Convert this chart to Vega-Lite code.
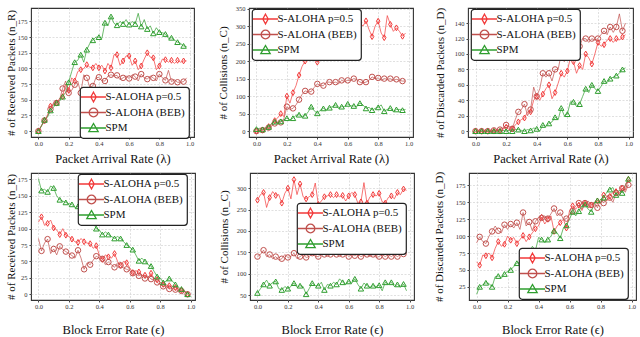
{
"$schema": "https://vega.github.io/schema/vega-lite/v6.json",
"padding": {"left": 4, "top": 5, "right": 0, "bottom": 0},
"background": "white",
"datasets": {
"p1": [
{"x":0,"ALOHA":0,"BEB":0,"SPM":0},{"x":0.02,"ALOHA":8,"BEB":9,"SPM":8},{"x":0.04,"ALOHA":17,"BEB":17,"SPM":18},{"x":0.06,"ALOHA":25,"BEB":24,"SPM":22},{"x":0.08,"ALOHA":40,"BEB":35,"SPM":33},{"x":0.1,"ALOHA":42,"BEB":45,"SPM":38},{"x":0.12,"ALOHA":45,"BEB":45,"SPM":45},{"x":0.14,"ALOHA":52,"BEB":50,"SPM":48},{"x":0.16,"ALOHA":55,"BEB":68,"SPM":55},{"x":0.18,"ALOHA":75,"BEB":80,"SPM":62},
{"x":0.2,"ALOHA":65,"BEB":61,"SPM":78},{"x":0.22,"ALOHA":85,"BEB":65,"SPM":95},{"x":0.24,"ALOHA":80,"BEB":74,"SPM":110},{"x":0.26,"ALOHA":95,"BEB":80,"SPM":113},{"x":0.28,"ALOHA":98,"BEB":61,"SPM":122},{"x":0.3,"ALOHA":100,"BEB":90,"SPM":110},{"x":0.32,"ALOHA":106,"BEB":85,"SPM":130},{"x":0.34,"ALOHA":102,"BEB":70,"SPM":140},{"x":0.36,"ALOHA":101,"BEB":72,"SPM":145},{"x":0.38,"ALOHA":108,"BEB":85,"SPM":150},
{"x":0.4,"ALOHA":101,"BEB":86,"SPM":150},{"x":0.42,"ALOHA":105,"BEB":80,"SPM":148},{"x":0.44,"ALOHA":96,"BEB":80,"SPM":173},{"x":0.46,"ALOHA":108,"BEB":88,"SPM":168},{"x":0.48,"ALOHA":101,"BEB":90,"SPM":183},{"x":0.5,"ALOHA":122,"BEB":88,"SPM":172},{"x":0.52,"ALOHA":122,"BEB":89,"SPM":169},{"x":0.54,"ALOHA":105,"BEB":82,"SPM":175},{"x":0.56,"ALOHA":112,"BEB":85,"SPM":171},{"x":0.58,"ALOHA":120,"BEB":88,"SPM":178},
{"x":0.6,"ALOHA":120,"BEB":84,"SPM":170},{"x":0.62,"ALOHA":105,"BEB":90,"SPM":175},{"x":0.64,"ALOHA":112,"BEB":87,"SPM":171},{"x":0.66,"ALOHA":98,"BEB":80,"SPM":188},{"x":0.68,"ALOHA":104,"BEB":91,"SPM":167},{"x":0.7,"ALOHA":115,"BEB":85,"SPM":178},{"x":0.72,"ALOHA":125,"BEB":83,"SPM":163},{"x":0.74,"ALOHA":118,"BEB":88,"SPM":168},{"x":0.76,"ALOHA":117,"BEB":85,"SPM":156},{"x":0.78,"ALOHA":98,"BEB":80,"SPM":165},
{"x":0.8,"ALOHA":104,"BEB":91,"SPM":158},{"x":0.82,"ALOHA":115,"BEB":85,"SPM":157},{"x":0.84,"ALOHA":114,"BEB":81,"SPM":155},{"x":0.86,"ALOHA":110,"BEB":97,"SPM":148},{"x":0.88,"ALOHA":113,"BEB":79,"SPM":149},{"x":0.9,"ALOHA":108,"BEB":82,"SPM":145},{"x":0.92,"ALOHA":113,"BEB":78,"SPM":142},{"x":0.94,"ALOHA":110,"BEB":78,"SPM":140},{"x":0.96,"ALOHA":112,"BEB":79,"SPM":136},{"x":0.98,"ALOHA":112,"BEB":85,"SPM":135}
],
"p2": [
{"x":0,"ALOHA":0,"BEB":0,"SPM":6},{"x":0.02,"ALOHA":2,"BEB":1,"SPM":8},{"x":0.04,"ALOHA":3,"BEB":3,"SPM":5},{"x":0.06,"ALOHA":8,"BEB":6,"SPM":10},{"x":0.08,"ALOHA":13,"BEB":10,"SPM":12},{"x":0.1,"ALOHA":20,"BEB":15,"SPM":22},{"x":0.12,"ALOHA":30,"BEB":22,"SPM":27},{"x":0.14,"ALOHA":38,"BEB":25,"SPM":25},{"x":0.16,"ALOHA":50,"BEB":25,"SPM":28},{"x":0.18,"ALOHA":42,"BEB":35,"SPM":32},
{"x":0.2,"ALOHA":100,"BEB":70,"SPM":37},{"x":0.22,"ALOHA":80,"BEB":62,"SPM":32},{"x":0.24,"ALOHA":110,"BEB":65,"SPM":37},{"x":0.26,"ALOHA":130,"BEB":75,"SPM":45},{"x":0.28,"ALOHA":160,"BEB":90,"SPM":47},{"x":0.3,"ALOHA":185,"BEB":105,"SPM":42},{"x":0.32,"ALOHA":200,"BEB":115,"SPM":44},{"x":0.34,"ALOHA":210,"BEB":112,"SPM":55},{"x":0.36,"ALOHA":230,"BEB":113,"SPM":70},{"x":0.38,"ALOHA":215,"BEB":125,"SPM":58},
{"x":0.4,"ALOHA":197,"BEB":135,"SPM":51},{"x":0.42,"ALOHA":240,"BEB":130,"SPM":60},{"x":0.44,"ALOHA":260,"BEB":130,"SPM":65},{"x":0.46,"ALOHA":275,"BEB":140,"SPM":60},{"x":0.48,"ALOHA":285,"BEB":140,"SPM":67},{"x":0.5,"ALOHA":290,"BEB":138,"SPM":70},{"x":0.52,"ALOHA":300,"BEB":140,"SPM":75},{"x":0.54,"ALOHA":310,"BEB":135,"SPM":65},{"x":0.56,"ALOHA":305,"BEB":145,"SPM":70},{"x":0.58,"ALOHA":295,"BEB":142,"SPM":70},
{"x":0.6,"ALOHA":310,"BEB":145,"SPM":78},{"x":0.62,"ALOHA":300,"BEB":145,"SPM":72},{"x":0.64,"ALOHA":320,"BEB":150,"SPM":72},{"x":0.66,"ALOHA":305,"BEB":148,"SPM":70},{"x":0.68,"ALOHA":310,"BEB":140,"SPM":80},{"x":0.7,"ALOHA":300,"BEB":138,"SPM":75},{"x":0.72,"ALOHA":315,"BEB":140,"SPM":65},{"x":0.74,"ALOHA":290,"BEB":145,"SPM":68},{"x":0.76,"ALOHA":270,"BEB":155,"SPM":60},{"x":0.78,"ALOHA":300,"BEB":150,"SPM":65},
{"x":0.8,"ALOHA":314,"BEB":152,"SPM":68},{"x":0.82,"ALOHA":280,"BEB":145,"SPM":75},{"x":0.84,"ALOHA":267,"BEB":150,"SPM":57},{"x":0.86,"ALOHA":330,"BEB":148,"SPM":62},{"x":0.88,"ALOHA":305,"BEB":150,"SPM":66},{"x":0.9,"ALOHA":285,"BEB":145,"SPM":55},{"x":0.92,"ALOHA":295,"BEB":148,"SPM":62},{"x":0.94,"ALOHA":285,"BEB":145,"SPM":62},{"x":0.96,"ALOHA":271,"BEB":143,"SPM":60},{"x":0.98,"ALOHA":280,"BEB":143,"SPM":62}
],
"p3": [
{"x":0,"ALOHA":0,"BEB":0,"SPM":0},{"x":0.02,"ALOHA":0,"BEB":0,"SPM":0},{"x":0.04,"ALOHA":0,"BEB":0,"SPM":0},{"x":0.06,"ALOHA":0,"BEB":0,"SPM":0},{"x":0.08,"ALOHA":0,"BEB":0,"SPM":0},{"x":0.1,"ALOHA":0,"BEB":0,"SPM":0},{"x":0.12,"ALOHA":0,"BEB":1,"SPM":0},{"x":0.14,"ALOHA":1,"BEB":2,"SPM":0},{"x":0.16,"ALOHA":0,"BEB":2,"SPM":0},{"x":0.18,"ALOHA":3,"BEB":4,"SPM":1},
{"x":0.2,"ALOHA":5,"BEB":8,"SPM":0},{"x":0.22,"ALOHA":2,"BEB":6,"SPM":1},{"x":0.24,"ALOHA":3,"BEB":3,"SPM":0},{"x":0.26,"ALOHA":8,"BEB":15,"SPM":2},{"x":0.28,"ALOHA":12,"BEB":25,"SPM":2},{"x":0.3,"ALOHA":15,"BEB":28,"SPM":1},{"x":0.32,"ALOHA":17,"BEB":35,"SPM":0},{"x":0.34,"ALOHA":25,"BEB":20,"SPM":2},{"x":0.36,"ALOHA":25,"BEB":28,"SPM":1},{"x":0.38,"ALOHA":40,"BEB":57,"SPM":4},
{"x":0.4,"ALOHA":45,"BEB":45,"SPM":3},{"x":0.42,"ALOHA":40,"BEB":55,"SPM":0},{"x":0.44,"ALOHA":48,"BEB":75,"SPM":8},{"x":0.46,"ALOHA":55,"BEB":70,"SPM":6},{"x":0.48,"ALOHA":60,"BEB":75,"SPM":10},{"x":0.5,"ALOHA":42,"BEB":65,"SPM":12},{"x":0.52,"ALOHA":50,"BEB":80,"SPM":18},{"x":0.54,"ALOHA":62,"BEB":80,"SPM":15},{"x":0.56,"ALOHA":75,"BEB":100,"SPM":30},{"x":0.58,"ALOHA":70,"BEB":90,"SPM":20},
{"x":0.6,"ALOHA":78,"BEB":105,"SPM":22},{"x":0.62,"ALOHA":95,"BEB":100,"SPM":38},{"x":0.64,"ALOHA":90,"BEB":110,"SPM":38},{"x":0.66,"ALOHA":75,"BEB":105,"SPM":32},{"x":0.68,"ALOHA":85,"BEB":110,"SPM":35},{"x":0.7,"ALOHA":80,"BEB":120,"SPM":45},{"x":0.72,"ALOHA":100,"BEB":120,"SPM":55},{"x":0.74,"ALOHA":95,"BEB":115,"SPM":50},{"x":0.76,"ALOHA":87,"BEB":120,"SPM":60},{"x":0.78,"ALOHA":100,"BEB":118,"SPM":55},
{"x":0.8,"ALOHA":115,"BEB":120,"SPM":52},{"x":0.82,"ALOHA":110,"BEB":125,"SPM":58},{"x":0.84,"ALOHA":112,"BEB":130,"SPM":65},{"x":0.86,"ALOHA":118,"BEB":125,"SPM":63},{"x":0.88,"ALOHA":120,"BEB":135,"SPM":68},{"x":0.9,"ALOHA":115,"BEB":128,"SPM":70},{"x":0.92,"ALOHA":120,"BEB":135,"SPM":72},{"x":0.94,"ALOHA":118,"BEB":152,"SPM":75},{"x":0.96,"ALOHA":122,"BEB":130,"SPM":80},{"x":0.98,"ALOHA":125,"BEB":140,"SPM":82}
],
"p4": [
{"x":0,"ALOHA":110,"BEB":85,"SPM":176},{"x":0.02,"ALOHA":118,"BEB":66,"SPM":158},{"x":0.04,"ALOHA":105,"BEB":78,"SPM":160},{"x":0.06,"ALOHA":108,"BEB":84,"SPM":156},{"x":0.08,"ALOHA":113,"BEB":62,"SPM":165},{"x":0.1,"ALOHA":101,"BEB":69,"SPM":162},{"x":0.12,"ALOHA":98,"BEB":60,"SPM":150},{"x":0.14,"ALOHA":91,"BEB":73,"SPM":144},{"x":0.16,"ALOHA":100,"BEB":68,"SPM":142},{"x":0.18,"ALOHA":90,"BEB":65,"SPM":140},
{"x":0.2,"ALOHA":88,"BEB":62,"SPM":138},{"x":0.22,"ALOHA":84,"BEB":59,"SPM":137},{"x":0.24,"ALOHA":80,"BEB":55,"SPM":132},{"x":0.26,"ALOHA":79,"BEB":67,"SPM":134},{"x":0.28,"ALOHA":85,"BEB":55,"SPM":130},{"x":0.3,"ALOHA":80,"BEB":38,"SPM":125},{"x":0.32,"ALOHA":78,"BEB":48,"SPM":120},{"x":0.34,"ALOHA":77,"BEB":45,"SPM":115},{"x":0.36,"ALOHA":70,"BEB":52,"SPM":110},{"x":0.38,"ALOHA":74,"BEB":58,"SPM":100},
{"x":0.4,"ALOHA":60,"BEB":55,"SPM":98},{"x":0.42,"ALOHA":53,"BEB":54,"SPM":91},{"x":0.44,"ALOHA":60,"BEB":45,"SPM":95},{"x":0.46,"ALOHA":57,"BEB":49,"SPM":91},{"x":0.48,"ALOHA":55,"BEB":45,"SPM":88},{"x":0.5,"ALOHA":62,"BEB":41,"SPM":85},{"x":0.52,"ALOHA":50,"BEB":48,"SPM":88},{"x":0.54,"ALOHA":44,"BEB":44,"SPM":85},{"x":0.56,"ALOHA":50,"BEB":40,"SPM":80},{"x":0.58,"ALOHA":48,"BEB":38,"SPM":75},
{"x":0.6,"ALOHA":40,"BEB":36,"SPM":72},{"x":0.62,"ALOHA":33,"BEB":32,"SPM":68},{"x":0.64,"ALOHA":36,"BEB":30,"SPM":60},{"x":0.66,"ALOHA":34,"BEB":28,"SPM":51},{"x":0.68,"ALOHA":28,"BEB":30,"SPM":55},{"x":0.7,"ALOHA":29,"BEB":24,"SPM":50},{"x":0.72,"ALOHA":25,"BEB":28,"SPM":45},{"x":0.74,"ALOHA":32,"BEB":23,"SPM":43},{"x":0.76,"ALOHA":24,"BEB":22,"SPM":35},{"x":0.78,"ALOHA":22,"BEB":18,"SPM":27},
{"x":0.8,"ALOHA":18,"BEB":15,"SPM":25},{"x":0.82,"ALOHA":15,"BEB":12,"SPM":18},{"x":0.84,"ALOHA":14,"BEB":12,"SPM":20},{"x":0.86,"ALOHA":13,"BEB":8,"SPM":24},{"x":0.88,"ALOHA":12,"BEB":9,"SPM":20},{"x":0.9,"ALOHA":10,"BEB":7,"SPM":15},{"x":0.92,"ALOHA":8,"BEB":6,"SPM":10},{"x":0.94,"ALOHA":6,"BEB":5,"SPM":8},{"x":0.96,"ALOHA":5,"BEB":4,"SPM":5},{"x":0.98,"ALOHA":0,"BEB":0,"SPM":0}
],
"p5": [
{"x":0,"ALOHA":272,"BEB":140,"SPM":55},{"x":0.02,"ALOHA":285,"BEB":145,"SPM":65},{"x":0.04,"ALOHA":290,"BEB":155,"SPM":75},{"x":0.06,"ALOHA":255,"BEB":140,"SPM":85},{"x":0.08,"ALOHA":278,"BEB":145,"SPM":72},{"x":0.1,"ALOHA":292,"BEB":135,"SPM":80},{"x":0.12,"ALOHA":283,"BEB":140,"SPM":82},{"x":0.14,"ALOHA":285,"BEB":132,"SPM":65},{"x":0.16,"ALOHA":265,"BEB":135,"SPM":62},{"x":0.18,"ALOHA":288,"BEB":145,"SPM":70},
{"x":0.2,"ALOHA":300,"BEB":138,"SPM":65},{"x":0.22,"ALOHA":275,"BEB":140,"SPM":70},{"x":0.24,"ALOHA":320,"BEB":148,"SPM":78},{"x":0.26,"ALOHA":285,"BEB":135,"SPM":68},{"x":0.28,"ALOHA":310,"BEB":140,"SPM":72},{"x":0.3,"ALOHA":280,"BEB":145,"SPM":70},{"x":0.32,"ALOHA":275,"BEB":138,"SPM":52},{"x":0.34,"ALOHA":280,"BEB":140,"SPM":65},{"x":0.36,"ALOHA":285,"BEB":148,"SPM":78},{"x":0.38,"ALOHA":312,"BEB":140,"SPM":72},
{"x":0.4,"ALOHA":262,"BEB":140,"SPM":72},{"x":0.42,"ALOHA":270,"BEB":145,"SPM":80},{"x":0.44,"ALOHA":280,"BEB":145,"SPM":62},{"x":0.46,"ALOHA":282,"BEB":140,"SPM":75},{"x":0.48,"ALOHA":285,"BEB":145,"SPM":72},{"x":0.5,"ALOHA":278,"BEB":148,"SPM":80},{"x":0.52,"ALOHA":285,"BEB":145,"SPM":75},{"x":0.54,"ALOHA":280,"BEB":140,"SPM":88},{"x":0.56,"ALOHA":283,"BEB":145,"SPM":80},{"x":0.58,"ALOHA":270,"BEB":150,"SPM":75},
{"x":0.6,"ALOHA":282,"BEB":140,"SPM":82},{"x":0.62,"ALOHA":290,"BEB":145,"SPM":78},{"x":0.64,"ALOHA":285,"BEB":142,"SPM":88},{"x":0.66,"ALOHA":265,"BEB":146,"SPM":75},{"x":0.68,"ALOHA":268,"BEB":140,"SPM":65},{"x":0.7,"ALOHA":313,"BEB":143,"SPM":78},{"x":0.72,"ALOHA":265,"BEB":145,"SPM":72},{"x":0.74,"ALOHA":280,"BEB":140,"SPM":68},{"x":0.76,"ALOHA":285,"BEB":145,"SPM":72},{"x":0.78,"ALOHA":282,"BEB":138,"SPM":70},
{"x":0.8,"ALOHA":288,"BEB":140,"SPM":73},{"x":0.82,"ALOHA":268,"BEB":145,"SPM":60},{"x":0.84,"ALOHA":265,"BEB":140,"SPM":80},{"x":0.86,"ALOHA":278,"BEB":145,"SPM":75},{"x":0.88,"ALOHA":282,"BEB":140,"SPM":80},{"x":0.9,"ALOHA":275,"BEB":145,"SPM":70},{"x":0.92,"ALOHA":290,"BEB":140,"SPM":75},{"x":0.94,"ALOHA":285,"BEB":145,"SPM":68},{"x":0.96,"ALOHA":298,"BEB":146,"SPM":76},{"x":0.98,"ALOHA":295,"BEB":150,"SPM":60}
],
"p6": [
{"x":0,"ALOHA":62,"BEB":90,"SPM":14},{"x":0.02,"ALOHA":57,"BEB":99,"SPM":25},{"x":0.04,"ALOHA":72,"BEB":92,"SPM":28},{"x":0.06,"ALOHA":71,"BEB":89,"SPM":31},{"x":0.08,"ALOHA":75,"BEB":100,"SPM":30},{"x":0.1,"ALOHA":68,"BEB":107,"SPM":25},{"x":0.12,"ALOHA":82,"BEB":115,"SPM":40},{"x":0.14,"ALOHA":92,"BEB":108,"SPM":41},{"x":0.16,"ALOHA":85,"BEB":105,"SPM":38},{"x":0.18,"ALOHA":88,"BEB":117,"SPM":44},
{"x":0.2,"ALOHA":100,"BEB":110,"SPM":48},{"x":0.22,"ALOHA":94,"BEB":118,"SPM":50},{"x":0.24,"ALOHA":98,"BEB":112,"SPM":55},{"x":0.26,"ALOHA":89,"BEB":120,"SPM":60},{"x":0.28,"ALOHA":95,"BEB":110,"SPM":62},{"x":0.3,"ALOHA":101,"BEB":135,"SPM":67},{"x":0.32,"ALOHA":92,"BEB":115,"SPM":70},{"x":0.34,"ALOHA":99,"BEB":121,"SPM":75},{"x":0.36,"ALOHA":105,"BEB":108,"SPM":85},{"x":0.38,"ALOHA":111,"BEB":122,"SPM":79},
{"x":0.4,"ALOHA":115,"BEB":128,"SPM":98},{"x":0.42,"ALOHA":128,"BEB":127,"SPM":95},{"x":0.44,"ALOHA":118,"BEB":130,"SPM":90},{"x":0.46,"ALOHA":125,"BEB":126,"SPM":95},{"x":0.48,"ALOHA":130,"BEB":133,"SPM":100},{"x":0.5,"ALOHA":107,"BEB":141,"SPM":108},{"x":0.52,"ALOHA":115,"BEB":130,"SPM":105},{"x":0.54,"ALOHA":120,"BEB":135,"SPM":97},{"x":0.56,"ALOHA":125,"BEB":125,"SPM":112},{"x":0.58,"ALOHA":112,"BEB":126,"SPM":116},
{"x":0.6,"ALOHA":138,"BEB":132,"SPM":125},{"x":0.62,"ALOHA":145,"BEB":137,"SPM":136},{"x":0.64,"ALOHA":140,"BEB":145,"SPM":130},{"x":0.66,"ALOHA":146,"BEB":149,"SPM":137},{"x":0.68,"ALOHA":138,"BEB":140,"SPM":145},{"x":0.7,"ALOHA":149,"BEB":149,"SPM":147},{"x":0.72,"ALOHA":142,"BEB":152,"SPM":140},{"x":0.74,"ALOHA":146,"BEB":146,"SPM":136},{"x":0.76,"ALOHA":150,"BEB":150,"SPM":148},{"x":0.78,"ALOHA":152,"BEB":142,"SPM":153},
{"x":0.8,"ALOHA":148,"BEB":155,"SPM":150},{"x":0.82,"ALOHA":161,"BEB":149,"SPM":157},{"x":0.84,"ALOHA":152,"BEB":160,"SPM":165},{"x":0.86,"ALOHA":159,"BEB":157,"SPM":169},{"x":0.88,"ALOHA":165,"BEB":150,"SPM":172},{"x":0.9,"ALOHA":166,"BEB":164,"SPM":161},{"x":0.92,"ALOHA":163,"BEB":160,"SPM":168},{"x":0.94,"ALOHA":171,"BEB":171,"SPM":164},{"x":0.96,"ALOHA":168,"BEB":165,"SPM":175},{"x":0.98,"ALOHA":184,"BEB":176,"SPM":185}
]
},
"vconcat": [
{"hconcat": [
{"width":163,"height":129,"data":{"name":"p1"},
"transform":[{"fold":["ALOHA","BEB","SPM"],"as":["series","v"]}],
"encoding":{
"x":{"field":"x","type":"quantitative","scale":{"domain":[-0.049,1.029],"nice":false,"zero":false},"axis":{"title":"Packet Arrival Rate (λ)","values":[0,0.2,0.4,0.6,0.8,1],"format":".1f","titlePadding":6}},
"y":{"field":"v","type":"quantitative","scale":{"domain":[-9.4,196.5],"nice":false,"zero":false},"axis":{"title":"# of Received Packets (n_R)","values":[0,25,50,75,100,125,150,175],"titlePadding":1}},
"color":{"field":"series","type":"nominal","scale":{"domain":["ALOHA","BEB","SPM"],"range":["#f23a3a","#c0504d","#2f9e2f"]},
"legend":{"orient":"none","legendX":49,"legendY":79,"title":null,"labelExpr":"datum.value=='ALOHA'?'S-ALOHA p=0.5':datum.value=='BEB'?'S-ALOHA (BEB)':'SPM'"}}
},
"layer":[
{"mark":{"type":"line","strokeWidth":1,"opacity":0.7}},
{"transform":[{"filter":"datum.series=='ALOHA' && round(datum.x*100)%4==0"}],"mark":{"type":"point","shape":"M0,-1L0.6,0L0,1L-0.6,0Z","filled":false,"strokeWidth":1,"size":34,"opacity":1}},
{"transform":[{"filter":"datum.series=='BEB' && round(datum.x*100)%4==0"}],"mark":{"type":"point","shape":"circle","filled":false,"strokeWidth":1,"size":30,"opacity":1}},
{"transform":[{"filter":"datum.series=='SPM' && round(datum.x*100)%4==0"}],"mark":{"type":"point","shape":"triangle-up","filled":false,"strokeWidth":1,"size":30,"opacity":1}},
{"transform":[{"filter":"false"}],"mark":{"type":"point","filled":false,"opacity":0},
"encoding":{"shape":{"field":"series","type":"nominal","scale":{"domain":["ALOHA","BEB","SPM"],"range":["M-2.1,0L2.1,0M0,-0.8L0.45,0L0,0.8L-0.45,0Z","M-2.1,0L2.1,0M0.72,0A0.72,0.72,0,1,1,-0.72,0A0.72,0.72,0,1,1,0.72,0Z","M-2.1,0L2.1,0M0,-0.75L0.78,0.6L-0.78,0.6Z"]},
"legend":{"orient":"none","legendX":49,"legendY":79,"title":null,"labelExpr":"datum.value=='ALOHA'?'S-ALOHA p=0.5':datum.value=='BEB'?'S-ALOHA (BEB)':'SPM'"}}}}
]},
{"width":164,"height":129,"data":{"name":"p2"},
"transform":[{"fold":["ALOHA","BEB","SPM"],"as":["series","v"]}],
"encoding":{
"x":{"field":"x","type":"quantitative","scale":{"domain":[-0.049,1.029],"nice":false,"zero":false},"axis":{"title":"Packet Arrival Rate (λ)","values":[0,0.2,0.4,0.6,0.8,1],"format":".1f","titlePadding":6}},
"y":{"field":"v","type":"quantitative","scale":{"domain":[-16.7,351.7],"nice":false,"zero":false},"axis":{"title":"# of Collisions (n_C)","values":[0,50,100,150,200,250,300,350],"titlePadding":7}},
"color":{"field":"series","type":"nominal","scale":{"domain":["ALOHA","BEB","SPM"],"range":["#f23a3a","#c0504d","#2f9e2f"]},
"legend":{"orient":"none","legendX":3,"legendY":1,"title":null,"labelExpr":"datum.value=='ALOHA'?'S-ALOHA p=0.5':datum.value=='BEB'?'S-ALOHA (BEB)':'SPM'"}}
},
"layer":[
{"mark":{"type":"line","strokeWidth":1,"opacity":0.7}},
{"transform":[{"filter":"datum.series=='ALOHA' && round(datum.x*100)%4==0"}],"mark":{"type":"point","shape":"M0,-1L0.6,0L0,1L-0.6,0Z","filled":false,"strokeWidth":1,"size":34,"opacity":1}},
{"transform":[{"filter":"datum.series=='BEB' && round(datum.x*100)%4==0"}],"mark":{"type":"point","shape":"circle","filled":false,"strokeWidth":1,"size":30,"opacity":1}},
{"transform":[{"filter":"datum.series=='SPM' && round(datum.x*100)%4==0"}],"mark":{"type":"point","shape":"triangle-up","filled":false,"strokeWidth":1,"size":30,"opacity":1}},
{"transform":[{"filter":"false"}],"mark":{"type":"point","filled":false,"opacity":0},
"encoding":{"shape":{"field":"series","type":"nominal","scale":{"domain":["ALOHA","BEB","SPM"],"range":["M-2.1,0L2.1,0M0,-0.8L0.45,0L0,0.8L-0.45,0Z","M-2.1,0L2.1,0M0.72,0A0.72,0.72,0,1,1,-0.72,0A0.72,0.72,0,1,1,0.72,0Z","M-2.1,0L2.1,0M0,-0.75L0.78,0.6L-0.78,0.6Z"]},
"legend":{"orient":"none","legendX":3,"legendY":1,"title":null,"labelExpr":"datum.value=='ALOHA'?'S-ALOHA p=0.5':datum.value=='BEB'?'S-ALOHA (BEB)':'SPM'"}}}}
]},
{"width":165,"height":129,"data":{"name":"p3"},
"transform":[{"fold":["ALOHA","BEB","SPM"],"as":["series","v"]}],
"encoding":{
"x":{"field":"x","type":"quantitative","scale":{"domain":[-0.049,1.029],"nice":false,"zero":false},"axis":{"title":"Packet Arrival Rate (λ)","values":[0,0.2,0.4,0.6,0.8,1],"format":".1f","titlePadding":6}},
"y":{"field":"v","type":"quantitative","scale":{"domain":[-7.6,159.6],"nice":false,"zero":false},"axis":{"title":"# of Discarded Packets (n_D)","values":[0,20,40,60,80,100,120,140],"titlePadding":9}},
"color":{"field":"series","type":"nominal","scale":{"domain":["ALOHA","BEB","SPM"],"range":["#f23a3a","#c0504d","#2f9e2f"]},
"legend":{"orient":"none","legendX":3,"legendY":1,"title":null,"labelExpr":"datum.value=='ALOHA'?'S-ALOHA p=0.5':datum.value=='BEB'?'S-ALOHA (BEB)':'SPM'"}}
},
"layer":[
{"mark":{"type":"line","strokeWidth":1,"opacity":0.7}},
{"transform":[{"filter":"datum.series=='ALOHA' && round(datum.x*100)%4==0"}],"mark":{"type":"point","shape":"M0,-1L0.6,0L0,1L-0.6,0Z","filled":false,"strokeWidth":1,"size":34,"opacity":1}},
{"transform":[{"filter":"datum.series=='BEB' && round(datum.x*100)%4==0"}],"mark":{"type":"point","shape":"circle","filled":false,"strokeWidth":1,"size":30,"opacity":1}},
{"transform":[{"filter":"datum.series=='SPM' && round(datum.x*100)%4==0"}],"mark":{"type":"point","shape":"triangle-up","filled":false,"strokeWidth":1,"size":30,"opacity":1}},
{"transform":[{"filter":"false"}],"mark":{"type":"point","filled":false,"opacity":0},
"encoding":{"shape":{"field":"series","type":"nominal","scale":{"domain":["ALOHA","BEB","SPM"],"range":["M-2.1,0L2.1,0M0,-0.8L0.45,0L0,0.8L-0.45,0Z","M-2.1,0L2.1,0M0.72,0A0.72,0.72,0,1,1,-0.72,0A0.72,0.72,0,1,1,0.72,0Z","M-2.1,0L2.1,0M0,-0.75L0.78,0.6L-0.78,0.6Z"]},
"legend":{"orient":"none","legendX":3,"legendY":1,"title":null,"labelExpr":"datum.value=='ALOHA'?'S-ALOHA p=0.5':datum.value=='BEB'?'S-ALOHA (BEB)':'SPM'"}}}}
]}
],
"spacing": 55,
"bounds": "flush",
"resolve": {"scale":{"color":"independent","shape":"independent","x":"independent","y":"independent"},"legend":{"color":"independent","shape":"independent"}}
},
{"hconcat": [
{"width":164,"height":127,"data":{"name":"p4"},
"transform":[{"fold":["ALOHA","BEB","SPM"],"as":["series","v"]}],
"encoding":{
"x":{"field":"x","type":"quantitative","scale":{"domain":[-0.049,1.029],"nice":false,"zero":false},"axis":{"title":"Block Error Rate (ϵ)","values":[0,0.2,0.4,0.6,0.8,1],"format":".1f","titlePadding":14}},
"y":{"field":"v","type":"quantitative","scale":{"domain":[-8.8,184.8],"nice":false,"zero":false},"axis":{"title":"# of Received Packets (n_R)","values":[0,25,50,75,100,125,150,175],"titlePadding":1}},
"color":{"field":"series","type":"nominal","scale":{"domain":["ALOHA","BEB","SPM"],"range":["#f23a3a","#c0504d","#2f9e2f"]},
"legend":{"orient":"none","legendX":47,"legendY":1,"title":null,"labelExpr":"datum.value=='ALOHA'?'S-ALOHA p=0.5':datum.value=='BEB'?'S-ALOHA (BEB)':'SPM'"}}
},
"layer":[
{"mark":{"type":"line","strokeWidth":1,"opacity":0.7}},
{"transform":[{"filter":"datum.series=='ALOHA' && round(datum.x*100)%4==2"}],"mark":{"type":"point","shape":"M0,-1L0.6,0L0,1L-0.6,0Z","filled":false,"strokeWidth":1,"size":34,"opacity":1}},
{"transform":[{"filter":"datum.series=='BEB' && round(datum.x*100)%4==2"}],"mark":{"type":"point","shape":"circle","filled":false,"strokeWidth":1,"size":30,"opacity":1}},
{"transform":[{"filter":"datum.series=='SPM' && round(datum.x*100)%4==2"}],"mark":{"type":"point","shape":"triangle-up","filled":false,"strokeWidth":1,"size":30,"opacity":1}},
{"transform":[{"filter":"false"}],"mark":{"type":"point","filled":false,"opacity":0},
"encoding":{"shape":{"field":"series","type":"nominal","scale":{"domain":["ALOHA","BEB","SPM"],"range":["M-2.1,0L2.1,0M0,-0.8L0.45,0L0,0.8L-0.45,0Z","M-2.1,0L2.1,0M0.72,0A0.72,0.72,0,1,1,-0.72,0A0.72,0.72,0,1,1,0.72,0Z","M-2.1,0L2.1,0M0,-0.75L0.78,0.6L-0.78,0.6Z"]},
"legend":{"orient":"none","legendX":47,"legendY":1,"title":null,"labelExpr":"datum.value=='ALOHA'?'S-ALOHA p=0.5':datum.value=='BEB'?'S-ALOHA (BEB)':'SPM'"}}}}
]},
{"width":164,"height":127,"data":{"name":"p5"},
"transform":[{"fold":["ALOHA","BEB","SPM"],"as":["series","v"]}],
"encoding":{
"x":{"field":"x","type":"quantitative","scale":{"domain":[-0.049,1.029],"nice":false,"zero":false},"axis":{"title":"Block Error Rate (ϵ)","values":[0,0.2,0.4,0.6,0.8,1],"format":".1f","titlePadding":14}},
"y":{"field":"v","type":"quantitative","scale":{"domain":[38.5,335.5],"nice":false,"zero":false},"axis":{"title":"# of Collisions (n_C)","values":[50,100,150,200,250,300],"titlePadding":7}},
"color":{"field":"series","type":"nominal","scale":{"domain":["ALOHA","BEB","SPM"],"range":["#f23a3a","#c0504d","#2f9e2f"]},
"legend":{"orient":"none","legendX":47,"legendY":30,"title":null,"labelExpr":"datum.value=='ALOHA'?'S-ALOHA p=0.5':datum.value=='BEB'?'S-ALOHA (BEB)':'SPM'"}}
},
"layer":[
{"mark":{"type":"line","strokeWidth":1,"opacity":0.7}},
{"transform":[{"filter":"datum.series=='ALOHA' && round(datum.x*100)%4==0"}],"mark":{"type":"point","shape":"M0,-1L0.6,0L0,1L-0.6,0Z","filled":false,"strokeWidth":1,"size":34,"opacity":1}},
{"transform":[{"filter":"datum.series=='BEB' && round(datum.x*100)%4==0"}],"mark":{"type":"point","shape":"circle","filled":false,"strokeWidth":1,"size":30,"opacity":1}},
{"transform":[{"filter":"datum.series=='SPM' && round(datum.x*100)%4==0"}],"mark":{"type":"point","shape":"triangle-up","filled":false,"strokeWidth":1,"size":30,"opacity":1}},
{"transform":[{"filter":"false"}],"mark":{"type":"point","filled":false,"opacity":0},
"encoding":{"shape":{"field":"series","type":"nominal","scale":{"domain":["ALOHA","BEB","SPM"],"range":["M-2.1,0L2.1,0M0,-0.8L0.45,0L0,0.8L-0.45,0Z","M-2.1,0L2.1,0M0.72,0A0.72,0.72,0,1,1,-0.72,0A0.72,0.72,0,1,1,0.72,0Z","M-2.1,0L2.1,0M0,-0.75L0.78,0.6L-0.78,0.6Z"]},
"legend":{"orient":"none","legendX":47,"legendY":30,"title":null,"labelExpr":"datum.value=='ALOHA'?'S-ALOHA p=0.5':datum.value=='BEB'?'S-ALOHA (BEB)':'SPM'"}}}}
]},
{"width":167,"height":127,"data":{"name":"p6"},
"transform":[{"fold":["ALOHA","BEB","SPM"],"as":["series","v"]}],
"encoding":{
"x":{"field":"x","type":"quantitative","scale":{"domain":[-0.049,1.029],"nice":false,"zero":false},"axis":{"title":"Block Error Rate (ϵ)","values":[0,0.2,0.4,0.6,0.8,1],"format":".1f","titlePadding":14}},
"y":{"field":"v","type":"quantitative","scale":{"domain":[5.5,193.5],"nice":false,"zero":false},"axis":{"title":"# of Discarded Packets (n_D)","values":[25,50,75,100,125,150,175],"titlePadding":11}},
"color":{"field":"series","type":"nominal","scale":{"domain":["ALOHA","BEB","SPM"],"range":["#f23a3a","#c0504d","#2f9e2f"]},
"legend":{"orient":"none","legendX":50,"legendY":75,"title":null,"labelExpr":"datum.value=='ALOHA'?'S-ALOHA p=0.5':datum.value=='BEB'?'S-ALOHA (BEB)':'SPM'"}}
},
"layer":[
{"mark":{"type":"line","strokeWidth":1,"opacity":0.7}},
{"transform":[{"filter":"datum.series=='ALOHA' && round(datum.x*100)%4==2"}],"mark":{"type":"point","shape":"M0,-1L0.6,0L0,1L-0.6,0Z","filled":false,"strokeWidth":1,"size":34,"opacity":1}},
{"transform":[{"filter":"datum.series=='BEB' && round(datum.x*100)%4==2"}],"mark":{"type":"point","shape":"circle","filled":false,"strokeWidth":1,"size":30,"opacity":1}},
{"transform":[{"filter":"datum.series=='SPM' && round(datum.x*100)%4==2"}],"mark":{"type":"point","shape":"triangle-up","filled":false,"strokeWidth":1,"size":30,"opacity":1}},
{"transform":[{"filter":"false"}],"mark":{"type":"point","filled":false,"opacity":0},
"encoding":{"shape":{"field":"series","type":"nominal","scale":{"domain":["ALOHA","BEB","SPM"],"range":["M-2.1,0L2.1,0M0,-0.8L0.45,0L0,0.8L-0.45,0Z","M-2.1,0L2.1,0M0.72,0A0.72,0.72,0,1,1,-0.72,0A0.72,0.72,0,1,1,0.72,0Z","M-2.1,0L2.1,0M0,-0.75L0.78,0.6L-0.78,0.6Z"]},
"legend":{"orient":"none","legendX":50,"legendY":75,"title":null,"labelExpr":"datum.value=='ALOHA'?'S-ALOHA p=0.5':datum.value=='BEB'?'S-ALOHA (BEB)':'SPM'"}}}}
]}
],
"spacing": 55,
"bounds": "flush",
"resolve": {"scale":{"color":"independent","shape":"independent","x":"independent","y":"independent"},"legend":{"color":"independent","shape":"independent"}}
}
],
"spacing": 4,
"resolve": {"scale":{"color":"independent","shape":"independent","x":"independent","y":"independent"},"legend":{"color":"independent","shape":"independent"}},
"config": {
"font": "Liberation Serif",
"view": {"stroke": "#333", "strokeWidth": 1.1},
"axis": {"labelFont":"Liberation Serif","labelFontSize":6.5,"labelColor":"#333","titleFont":"Liberation Serif","titleFontSize":12,"titleFontWeight":"normal","titleColor":"#111","tickSize":2,"tickColor":"#444","domain":false,"gridColor":"#d2d2d2","gridDash":[2,1.5],"gridWidth":0.7,"labelFlush":false,"labelOverlap":false},
"axisY": {"labelPadding":2,"minExtent":14,"maxExtent":14,"titleFontSize":11},
"axisX": {"labelPadding":1,"titleFontSize":12.5},
"legend": {"labelFont":"Liberation Serif","labelFontSize":11,"labelColor":"#111","padding":3,"rowPadding":0.5,"symbolSize":144,"symbolStrokeWidth":1.3,"symbolOpacity":1,"symbolFillColor":"transparent","symbolOffset":3.5,"labelOffset":5,"strokeColor":"#222","strokeWidth":1.2,"fillColor":"white","cornerRadius":3}
}
}
